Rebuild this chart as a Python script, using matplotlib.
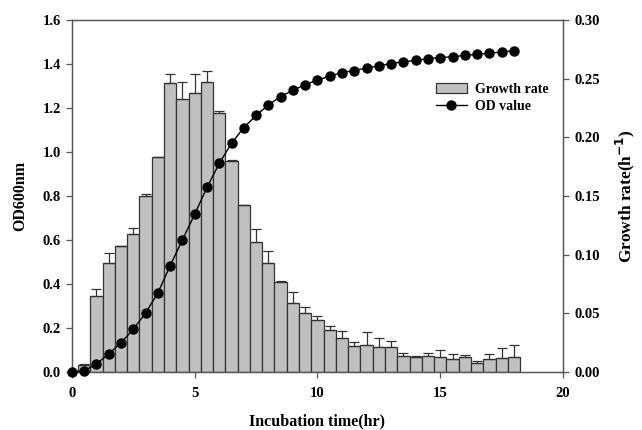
import matplotlib.pyplot as plt
import numpy as np

plt.rcParams['font.family'] = ['Liberation Serif', 'DejaVu Serif']
plt.rcParams['font.weight'] = 'bold'

# OD600 readings every 0.5 h
od_time = np.arange(0, 18.01, 0.5)
od_value = [0.0, 0.005, 0.036, 0.082, 0.133, 0.194, 0.268, 0.359, 0.483, 0.600,
            0.717, 0.839, 0.948, 1.039, 1.111, 1.166, 1.214, 1.252, 1.280, 1.306,
            1.327, 1.345, 1.361, 1.370, 1.382, 1.391, 1.402, 1.410, 1.416, 1.424,
            1.429, 1.433, 1.439, 1.444, 1.449, 1.455, 1.460]

# growth rate (h^-1) per interval
rate_time = np.arange(0.5, 18.01, 0.5)
rate = [0.006, 0.065, 0.093, 0.107, 0.118, 0.150, 0.183, 0.246, 0.233, 0.238,
        0.247, 0.221, 0.180, 0.142, 0.111, 0.093, 0.077, 0.059, 0.050, 0.044,
        0.036, 0.029, 0.022, 0.023, 0.021, 0.021, 0.0136, 0.0125, 0.0139, 0.013,
        0.0108, 0.0128, 0.008, 0.0108, 0.0122, 0.013]
rate_err = [0.001, 0.0055, 0.008, 0.0005, 0.0045, 0.002, 0.0005, 0.008, 0.014, 0.016,
            0.0095, 0.0015, 0.0005, 0.0005, 0.0105, 0.010, 0.0005, 0.0095, 0.0057, 0.0034,
            0.0031, 0.0062, 0.0034, 0.0108, 0.0083, 0.005, 0.0024, 0.0015, 0.0025, 0.0055,
            0.0048, 0.0017, 0.0017, 0.0048, 0.008, 0.0103]

fig = plt.figure(figsize=(6.42, 4.30), dpi=100)
ax = fig.add_axes([0.112, 0.135, 0.765, 0.8185])
ax2 = ax.twinx()
ax.set_zorder(ax2.get_zorder() + 1)
ax.patch.set_visible(False)

bars = ax2.bar(rate_time, rate, width=0.5, color='#c0c0c0', edgecolor='#333333',
               linewidth=0.9, label='Growth rate')
ax2.errorbar(rate_time, rate, yerr=[np.zeros(len(rate_err)), rate_err], fmt='none',
             ecolor='#333333', elinewidth=0.9, capsize=3.5, capthick=0.9)

line, = ax.plot(od_time, od_value, color='black', linewidth=1.0, marker='o',
                markersize=6.5, label='OD value', clip_on=False, zorder=5)

ax.set_xlim(0, 20)
ax.set_ylim(0, 1.6)
ax2.set_ylim(0, 0.30)
ax.set_xticks([0, 5, 10, 15, 20])
ax.set_yticks(np.arange(0, 1.61, 0.2))
ax.set_yticklabels([f'{v:.1f}' for v in np.arange(0, 1.61, 0.2)])
ax2.set_yticks(np.arange(0, 0.301, 0.05))
ax2.set_yticklabels([f'{v:.2f}' for v in np.arange(0, 0.301, 0.05)])

for a in (ax, ax2):
    for s in a.spines.values():
        s.set_color('#555555')
        s.set_linewidth(0.9)
    a.tick_params(direction='out', length=4, width=0.9, color='#555555',
                  labelsize=10.5, pad=4)
ax.tick_params(axis='x', pad=6.5)

ax.set_xlabel('Incubation time(hr)', fontsize=11.5, fontweight='bold', labelpad=10)
ax.set_ylabel('OD600nm', fontsize=11.5, fontweight='bold', labelpad=10)
ax2.set_ylabel('Growth rate(h$^{\\mathbf{-1}}$)', fontsize=12.5, fontweight='bold', labelpad=10)

ax.legend([bars, line], ['Growth rate', 'OD value'], loc='upper left',
          bbox_to_anchor=(0.716, 0.856), frameon=False, fontsize=10,
          handlelength=2.2, handletextpad=0.6, labelspacing=0.3)

fig.savefig('out.png', dpi=100)
